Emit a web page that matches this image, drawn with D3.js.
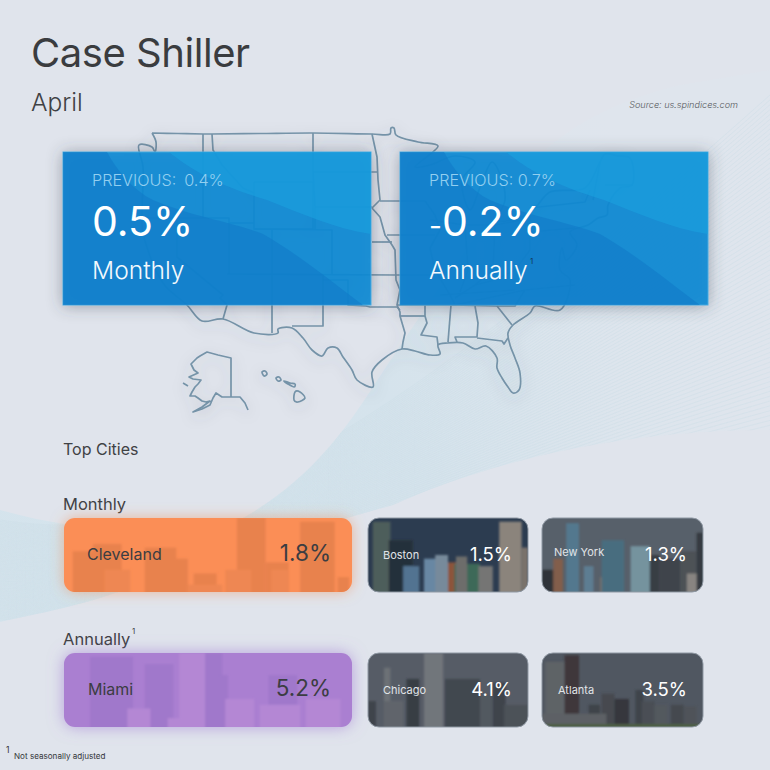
<!DOCTYPE html>
<html>
<head>
<meta charset="utf-8">
<script src="https://cdn.jsdelivr.net/npm/d3@7"></script>
<style>
  html, body { margin: 0; padding: 0; background: #e0e4ec; }
  svg { display: block; }
  text { font-family: "Inter", "Noto Sans", sans-serif; }
</style>
</head>
<body>
<div id="chart"></div>
<script>
// values
const headlineLabels = ["Monthly", "Annually"];
const headlineValues = [0.5, -0.2];
const previousValues = [0.4, 0.7];
const monthlyCities = ["Cleveland", "Boston", "New York"];
const monthlyValues = [1.8, 1.5, 1.3];
const annualCities = ["Miami", "Chicago", "Atlanta"];
const annualValues = [5.2, 4.1, 3.5];
const cardRanks = [0, 1, 2];

// map outline traced in map units, 1 unit = 1px at scale 1
const mapMain = [[22,13],[48,13.5],[73,14],[82,14],[130,13.5],[183,13],[242,14],[260,14],[261,8],[264,8],[266,15],[288,22],[308,26],[285,47],[300,45],[325,36],[345,42],[332,60],[340,90],[352,62],[362,42],[372,60],[375,80],[368,100],[392,97],[405,88],[420,72],[455,68],[470,42],[475,34],[488,36],[500,38],[502,65],[490,68],[478,85],[477,95],[468,98],[458,105],[440,112],[447,125],[436,140],[432,128],[430,150],[440,160],[430,190],[405,186],[400,193],[383,205],[378,213],[380,225],[385,238],[390,253],[389,270],[383,273],[378,267],[372,258],[367,248],[367,238],[356,226],[345,229],[333,223],[318,223],[308,225],[310,234],[300,235],[285,231],[272,229],[252,240],[242,252],[243,267],[227,260],[222,250],[213,237],[207,228],[198,228],[192,236],[182,230],[173,218],[162,208],[148,209],[148,213],[124,213],[93,199],[72,201],[57,185],[33,163],[13,113],[12,93],[13,47],[9,25],[22,27],[25,32],[26,22],[22,13]];
const mapBorders = [
  [[242,14],[247,37],[248,60],[250,80],[242,88],[250,97],[255,115],[262,125],[265,130],[266,160],[270,170],[267,185],[270,192],[270,196],[275,213],[273,222],[272,229]],
  [[73,14],[73,98]],
  [[82,14],[83,30],[92,45],[113,68],[124,73]],
  [[183,13],[183,52],[185,87],[185,110]],
  [[183,52],[247,52]],
  [[185,87],[242,87]],
  [[124,62],[183,62],[183,109],[124,109],[124,62]],
  [[124,109],[202,110],[202,154]],
  [[99,103],[99,154]],
  [[124,103],[99,103],[99,98],[13,98]],
  [[47,98],[47,137],[93,175],[90,178],[97,185],[93,199]],
  [[97,154],[266,155]],
  [[142,110],[142,213]],
  [[193,154],[193,206],[162,206]],
  [[193,160],[218,160],[218,185],[236,186],[240,187],[267,187],[270,190]],
  [[242,122],[262,122]],
  [[250,81],[295,81]],
  [[257,115],[305,115]],
  [[266,155],[302,155]],
  [[295,81],[305,95],[310,110],[300,128],[305,150],[320,175],[325,185]],
  [[335,105],[338,150],[330,172]],
  [[300,100],[335,105],[365,105],[392,100]],
  [[365,105],[363,150],[345,165]],
  [[325,178],[345,165],[365,160],[385,150],[400,130],[400,95]],
  [[267,185],[325,185],[395,170],[445,165]],
  [[310,175],[385,170]],
  [[400,88],[455,82],[460,70]],
  [[400,112],[445,108]],
  [[270,196],[295,196]],
  [[295,185],[295,196],[297,203],[291,215],[307,217],[308,225]],
  [[321,185],[318,222]],
  [[345,186],[348,203],[347,217],[325,217],[327,222]],
  [[347,218],[372,221],[374,224],[378,218]],
  [[367,186],[382,205]],
  [[395,170],[385,186],[367,186],[321,185]],
  [[470,42],[463,80]],
  [[475,65],[503,65]]
];
const alaska = [[101,277],[101,238],[88,235],[77,232],[70,236],[67,238],[61,244],[64,250],[68,253],[59,257],[63,259],[71,260],[68,264],[65,267],[62,272],[60,276],[65,276],[68,278],[72,281],[76,282],[80,281],[72,287],[63,292],[72,289],[80,285],[83,278],[86,273],[92,277],[101,277],[107,277],[110,277],[115,283],[118,290]];
const alaskaIsle = [[53,263],[58,266]];
const hawaii = [
  [[132,252],[135,251],[137,254],[134,256]],
  [[146,258],[149,257],[151,260],[148,261]],
  [[154,261],[160,263],[165,264],[164,267],[158,264]],
  [[165,272],[170,272],[175,278],[168,282],[164,280]]
];

// skyline blocks: x, width, height in percent of the card, then a shade
const skylines = {
  Cleveland: [[3,12,55,0],[10,10,65,0],[28,11,60,0],[38,5,45,0],[45,8,25,0],[60,10,100,0],[56,9,30,1],[70,8,40,0],[72,6,30,1],[82,12,95,0],[95,4,20,0],[14,9,30,1],[43,12,10,1]],
  Miami: [[9,15,95,0],[28,10,85,0],[40,10,100,1],[49,6,100,0],[53,4,70,0],[71,10,70,0],[22,8,25,1],[36,5,12,1],[56,10,38,1],[68,14,30,1],[84,12,38,1]],
  Boston: [[3,11,95,"#50625c"],[13,15,70,"#1e2a34"],[82,14,95,"#9a9084"],[96,4,60,"#857a70"],[22,10,35,"#557c9e"],[35,14,45,"#6f94b4"],[50,7,40,"#9c5636"],[54,16,38,"#3a7058"],[69,9,35,"#7f7e7a"],[42,8,50,"#8298aa"],[55,7,48,"#76746f"]],
  "New York": [[15,8,93,"#56829a"],[0,10,30,"#2c2f33"],[7,6,45,"#8f624a"],[26,6,35,"#62889f"],[36,14,20,"#83796e"],[37,14,70,"#4a7588"],[55,12,62,"#7fa3ae"],[67,6,50,"#363b41"],[73,13,45,"#3e434a"],[86,10,55,"#4f5357"],[96,4,80,"#33373c"],[90,6,25,"#96918a"]],
  Chicago: [[35,12,100,"#7a7f83"],[48,22,65,"#41474e"],[10,4,80,"#74797d"],[10,12,35,"#666b70"],[24,8,65,"#363b41"],[0,5,35,"#3e4349"],[70,8,45,"#555b62"],[78,8,60,"#3e434a"],[85,15,30,"#4d5259"]],
  Atlanta: [[2,14,88,"#64686a"],[14,9,97,"#3c3334"],[29,7,30,"#3e4246"],[37,8,45,"#46494d"],[45,9,38,"#303338"],[58,5,50,"#3d4248"],[62,8,35,"#4b5055"],[70,8,30,"#565b60"],[80,8,30,"#45494e"],[88,8,28,"#51555a"],[0,40,18,"#626567"],[0,100,4,"#4f6440"]]
};
const cardSkies = { Boston: "#27394f", "New York": "#5b646e", Chicago: "#5a606a", Atlanta: "#525963" };
const accentCards = {
  Cleveland: { fill: "#fb8e56", shades: ["#e8824e", "#ee8753"], glow: "#f08a50", text: "#3b3d42" },
  Miami: { fill: "#aa7fd1", shades: ["#a078cb", "#b487d4"], glow: "#9a70d0", text: "#3b3d42" }
};

const width = 770;
const height = 770;
const svg = d3.select("#chart").append("svg").attr("width", width).attr("height", height);
const defs = svg.append("defs");

svg.append("rect").attr("width", width).attr("height", height).attr("fill", "#e0e4ec");

// helpers for soft shadows
function addShadow(id, dy, blur, color, opacity) {
  defs.append("filter").attr("id", id)
    .attr("x", "-30%").attr("y", "-30%").attr("width", "160%").attr("height", "160%")
    .append("feDropShadow")
    .attr("dx", 0).attr("dy", dy).attr("stdDeviation", blur)
    .attr("flood-color", color).attr("flood-opacity", opacity);
}
addShadow("boxShadow", 1, 8, "#3b4250", 0.45);
addShadow("mapShadow", 4, 7, "#4b5563", 0.25);
addShadow("orangeGlow", 0, 7, accentCards.Cleveland.glow, 0.55);
addShadow("purpleGlow", 0, 8, accentCards.Miami.glow, 0.6);
defs.append("filter").attr("id", "photoBlur").append("feGaussianBlur").attr("stdDeviation", 0.8);

// background swoosh
const swooshPath = "M0,510 C90,535 170,535 243,518 C310,480 345,430 373,387 C430,300 490,210 545,150 C580,120 620,100 680,85 L770,70 L770,430 C600,430 470,470 393,505 C300,530 200,565 100,598 C60,610 30,615 0,622 Z";
const swooshGrad = defs.append("radialGradient").attr("id", "swooshGrad")
  .attr("gradientUnits", "userSpaceOnUse")
  .attr("cx", 150).attr("cy", 540).attr("r", 620);
swooshGrad.selectAll("stop")
  .data([[0, "#d4e4ed"], [0.45, "#d5e3ec"], [0.8, "#dde5ed"], [1, "#dfe5ed"]])
  .join("stop")
  .attr("offset", (d) => d[0])
  .attr("stop-color", (d) => d[1]);
defs.append("clipPath").attr("id", "swooshClip").append("path").attr("d", swooshPath);
svg.append("path").attr("d", swooshPath).attr("fill", "url(#swooshGrad)");

const swooshLines = svg.append("g").attr("clip-path", "url(#swooshClip)");
swooshLines.selectAll("path")
  .data(d3.range(0, 1.001, 1 / 70))
  .join("path")
  .attr("d", (t) => `M0,${520 + 100 * t} C180,${548 + 60 * t} 350,${470 + 60 * t} 770,${95 + 340 * t}`)
  .attr("fill", "none")
  .attr("stroke", "#cbdde7")
  .attr("stroke-opacity", 0.75)
  .attr("stroke-width", 0.6);

// map
const mapX = d3.scaleLinear().domain([0, 500]).range([130, 630]);
const mapY = d3.scaleLinear().domain([0, 300]).range([120, 420]);
const mapLine = d3.line().x((d) => mapX(d[0])).y((d) => mapY(d[1]));
const mapSmooth = d3.line().x((d) => mapX(d[0])).y((d) => mapY(d[1])).curve(d3.curveCatmullRom.alpha(0.5));
const mapClosed = d3.line().x((d) => mapX(d[0])).y((d) => mapY(d[1])).curve(d3.curveCardinalClosed);
const mapGroup = svg.append("g")
  .attr("fill", "none")
  .attr("stroke", "#7593a8")
  .attr("stroke-width", 1.7)
  .attr("stroke-linejoin", "round")
  .attr("filter", "url(#mapShadow)");
mapGroup.append("path").attr("d", mapSmooth(mapMain));
mapGroup.selectAll(".border").data(mapBorders).join("path").attr("class", "border").attr("d", mapLine);
mapGroup.append("path").attr("d", mapLine(alaska));
mapGroup.append("path").attr("d", mapLine(alaskaIsle));
mapGroup.selectAll(".isle").data(hawaii).join("path").attr("class", "isle").attr("d", mapClosed);

// titles
const label = (x, y, text, size, color, extra = {}) => {
  const t = svg.append("text").attr("x", x).attr("y", y).attr("font-size", size).attr("fill", color).text(text);
  Object.entries(extra).forEach(([k, v]) => t.attr(k, v));
  return t;
};
label(31, 67, "Case Shiller", 40, "#3a3c3f", { "letter-spacing": -0.45 });
label(31, 111, "April", 24.5, "#3f4144", { "font-weight": 300 });
label(738, 108, "Source: us.spindices.com", 9.1, "#55585c", { "text-anchor": "end", "font-style": "italic", "font-weight": 300 });

// headline boxes
const boxX = d3.scaleOrdinal().domain(headlineLabels).range([63, 400]);
const boxWidth = 308;
const boxHeight = 153;
const boxTop = 152;
const darkEdge = "M0,0 L44,0 C55,20 70,38 90,48 C130,65 170,70 200,82 C240,105 275,135 300,153 L0,153 Z";
const lightEdge = "M106,0 C125,15 150,32 204,48 C240,62 270,76 308,82 L308,0 Z";

const boxes = svg.selectAll(".box").data(headlineLabels).join("g")
  .attr("class", "box")
  .attr("transform", (d) => `translate(${boxX(d)},${boxTop})`);
boxes.append("rect")
  .attr("width", boxWidth).attr("height", boxHeight)
  .attr("fill", "#0689d4").attr("fill-opacity", 0.91)
  .attr("stroke", "#4aa9de").attr("stroke-width", 1)
  .attr("filter", "url(#boxShadow)");
boxes.append("path").attr("d", darkEdge).attr("fill", "#1078c6").attr("fill-opacity", 0.55);
boxes.append("path").attr("d", lightEdge).attr("fill", "#1aa2e0").attr("fill-opacity", 0.6);

boxes.append("text").attr("x", 29).attr("y", 34).attr("font-size", 16.2).attr("fill", "#93cff0")
  .attr("font-weight", 300).attr("word-spacing", (d, i) => (i === 0 ? 3.5 : 0))
  .text((d, i) => `PREVIOUS: ${previousValues[i].toFixed(1)}%`);

// the minus in the reference is much shorter than the digits
const headlineText = boxes.append("text").attr("x", 29).attr("y", 84).attr("font-size", 41).attr("fill", "#ffffff");
headlineText.filter((d, i) => headlineValues[i] < 0).append("tspan").attr("font-size", 28).text("-");
headlineText.append("tspan").text((d, i) => `${Math.abs(headlineValues[i]).toFixed(1)}%`);

boxes.append("text").attr("x", 29).attr("y", 127).attr("font-size", 24.6).attr("fill", "#f3f9fd").attr("font-weight", 300)
  .text((d) => d);
label(530, 264, "1", 8, "#123a5c");

// city section labels
label(63, 455, "Top Cities", 16, "#3f4144");
label(63, 510, headlineLabels[0], 16.5, "#3f4144");
label(63, 645, headlineLabels[1], 16.5, "#3f4144");
label(132, 634, "1", 8, "#3f4144");
label(6, 753, "1", 8.5, "#333333");
label(14, 759, "Not seasonally adjusted", 8.1, "#34363a");

// city cards
const cardX = d3.scaleOrdinal().domain(cardRanks).range([64, 368, 542]);
const cardW = d3.scaleOrdinal().domain(cardRanks).range([288, 160, 161]);
const rowY = d3.scaleOrdinal().domain(["monthly", "annual"]).range([518, 653]);
const cardH = 74;

const cardData = [
  ...monthlyCities.map((city, i) => ({ city, value: monthlyValues[i], rank: i, row: "monthly" })),
  ...annualCities.map((city, i) => ({ city, value: annualValues[i], rank: i, row: "annual" }))
];

const cards = svg.selectAll(".card").data(cardData).join("g")
  .attr("class", "card")
  .attr("transform", (d) => `translate(${cardX(d.rank)},${rowY(d.row)})`);

cards.each(function (d, i) {
  const g = d3.select(this);
  const w = cardW(d.rank);
  const accent = accentCards[d.city];
  const x = d3.scaleLinear().domain([0, 100]).range([0, w]);
  const h = d3.scaleLinear().domain([0, 100]).range([0, cardH]);

  defs.append("clipPath").attr("id", `cardClip${i}`)
    .append("rect").attr("width", w).attr("height", cardH).attr("rx", 11);

  g.append("rect")
    .attr("width", w).attr("height", cardH).attr("rx", 11)
    .attr("fill", accent ? accent.fill : cardSkies[d.city])
    .attr("filter", accent ? (d.city === "Miami" ? "url(#purpleGlow)" : "url(#orangeGlow)") : null);

  g.append("g")
    .attr("clip-path", `url(#cardClip${i})`)
    .append("g")
    .attr("filter", "url(#photoBlur)")
    .selectAll("rect")
    .data(skylines[d.city])
    .join("rect")
    .attr("x", (b) => x(b[0]))
    .attr("width", (b) => x(b[1]))
    .attr("y", (b) => cardH - h(b[2]))
    .attr("height", (b) => h(b[2]) + 4)
    .attr("fill", (b) => (accent ? accent.shades[b[3]] : b[3]));

  if (!accent) {
    g.append("rect").attr("width", w).attr("height", cardH).attr("rx", 11)
      .attr("fill", "#4a4f58").attr("fill-opacity", 0.18)
      .attr("stroke", "#8f98a3").attr("stroke-width", 1);
  }
});

const cityOffset = { Cleveland: [23, 42], Miami: [24, 42], Boston: [15, 41], "New York": [12, 38], Chicago: [15, 41], Atlanta: [16, 41] };
cards.append("text")
  .attr("x", (d) => cityOffset[d.city][0])
  .attr("y", (d) => cityOffset[d.city][1])
  .attr("font-size", (d) => (accentCards[d.city] ? 16 : 11))
  .attr("fill", (d) => (accentCards[d.city] ? accentCards[d.city].text : "#e1e4e8"))
  .text((d) => d.city);
cards.append("text")
  .attr("x", (d) => cardW(d.rank) - (accentCards[d.city] ? 21 : 16))
  .attr("y", 43)
  .attr("text-anchor", "end")
  .attr("font-size", (d) => (accentCards[d.city] ? 22.5 : 18.5))
  .attr("fill", (d) => (accentCards[d.city] ? accentCards[d.city].text : "#ffffff"))
  .text((d) => `${d.value.toFixed(1)}%`);
</script>
</body>
</html>
